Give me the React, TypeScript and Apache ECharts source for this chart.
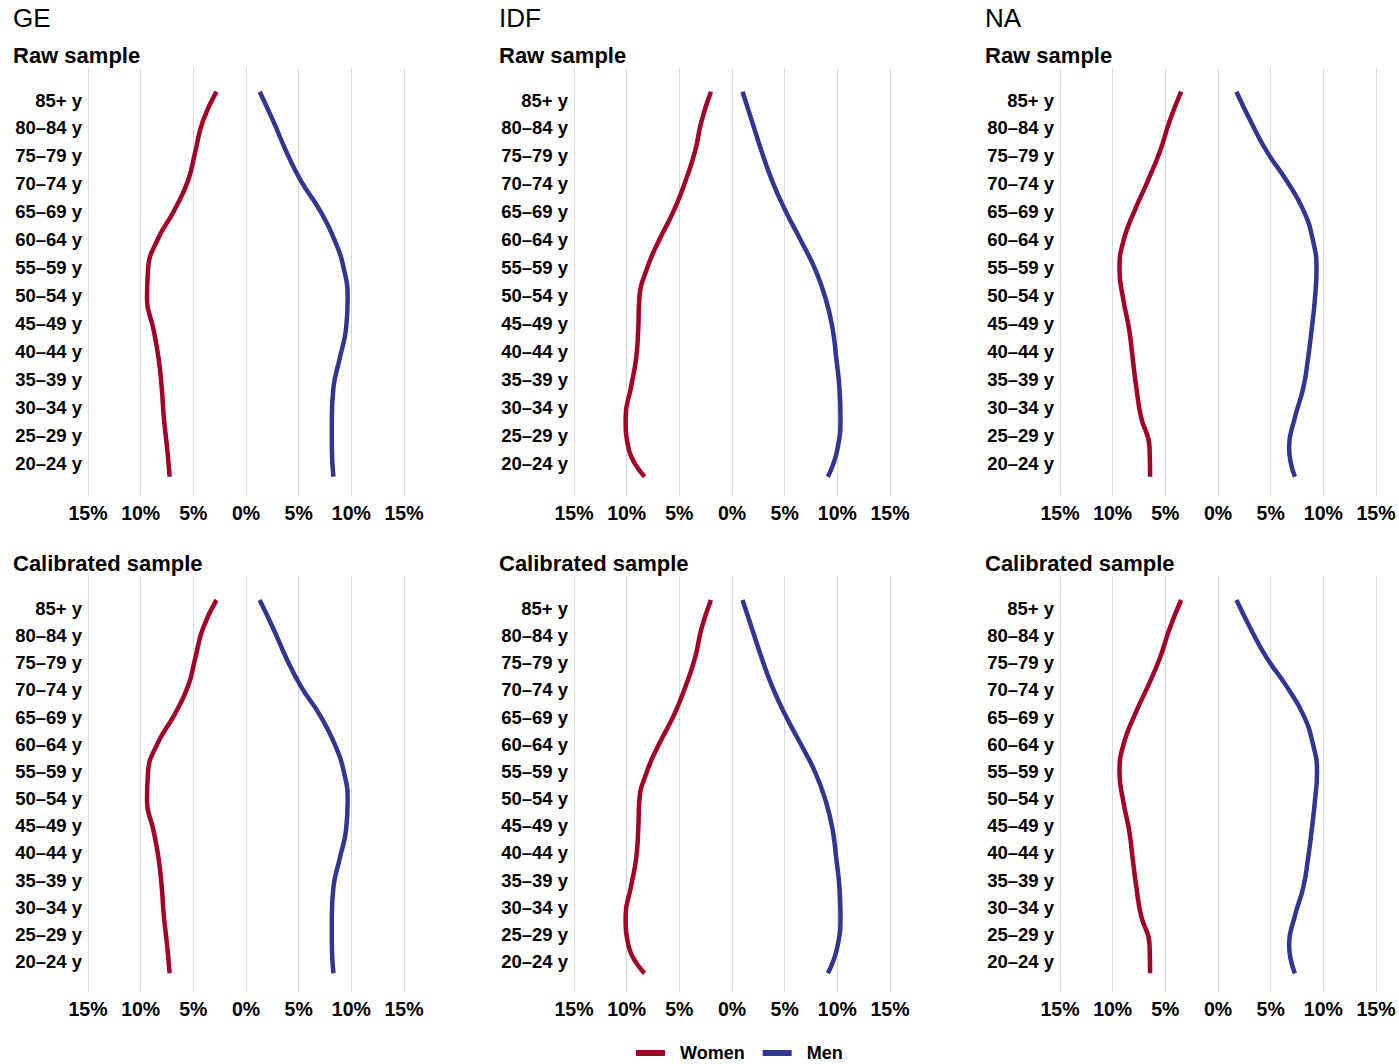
import React, { useEffect, useRef } from "react";
import * as echarts from "echarts";

// ---------- data ----------
const AGE_GROUPS = [
  "20–24 y", "25–29 y", "30–34 y", "35–39 y", "40–44 y", "45–49 y", "50–54 y",
  "55–59 y", "60–64 y", "65–69 y", "70–74 y", "75–79 y", "80–84 y", "85+ y",
];
const REGIONS = ["GE", "IDF", "NA"];
const SAMPLES = ["Raw sample", "Calibrated sample"];
const X_TICKS = [-15, -10, -5, 0, 5, 10, 15];

// shares in % (index 0 = 20–24 y ... index 13 = 85+ y)
const GE_RAW_WOMEN = [7.25, 7.5, 7.8, 8.0, 8.3, 8.8, 9.4, 9.3, 8.4, 6.8, 5.5, 4.8, 4.1, 2.8];
const GE_RAW_MEN = [8.3, 8.15, 8.15, 8.3, 8.9, 9.5, 9.65, 9.3, 8.4, 7.0, 5.2, 3.8, 2.6, 1.3];
const IDF_RAW_WOMEN = [8.3, 9.85, 10.1, 9.6, 9.1, 8.9, 8.8, 8.1, 6.9, 5.5, 4.4, 3.5, 2.9, 2.0];
const IDF_RAW_MEN = [9.1, 10.05, 10.3, 10.2, 9.9, 9.55, 8.9, 7.9, 6.5, 5.05, 3.8, 2.8, 1.9, 1.0];
const NA_RAW_WOMEN = [6.45, 6.5, 7.3, 7.75, 8.1, 8.45, 9.0, 9.35, 8.95, 7.9, 6.65, 5.5, 4.6, 3.5];
const NA_RAW_MEN = [7.3, 6.75, 7.3, 8.1, 8.55, 8.9, 9.2, 9.35, 9.0, 8.1, 6.5, 4.6, 3.1, 1.75];

const GE_CAL_WOMEN = [7.25, 7.5, 7.8, 8.0, 8.3, 8.8, 9.4, 9.3, 8.4, 6.8, 5.5, 4.8, 4.1, 2.8];
const GE_CAL_MEN = [8.3, 8.15, 8.15, 8.3, 8.9, 9.5, 9.65, 9.3, 8.4, 7.0, 5.2, 3.8, 2.6, 1.3];
const IDF_CAL_WOMEN = [8.3, 9.85, 10.1, 9.6, 9.1, 8.9, 8.8, 8.1, 6.9, 5.5, 4.4, 3.5, 2.9, 2.0];
const IDF_CAL_MEN = [9.1, 10.05, 10.3, 10.2, 9.9, 9.55, 8.9, 7.9, 6.5, 5.05, 3.8, 2.8, 1.9, 1.0];
const NA_CAL_WOMEN = [6.45, 6.5, 7.3, 7.75, 8.1, 8.45, 9.0, 9.35, 8.95, 7.9, 6.65, 5.5, 4.6, 3.5];
const NA_CAL_MEN = [7.3, 6.75, 7.3, 8.1, 8.55, 8.9, 9.2, 9.4, 9.0, 8.1, 6.5, 4.6, 3.1, 1.75];

const PANEL_DATA = [
  [
    { women: GE_RAW_WOMEN, men: GE_RAW_MEN },
    { women: IDF_RAW_WOMEN, men: IDF_RAW_MEN },
    { women: NA_RAW_WOMEN, men: NA_RAW_MEN },
  ],
  [
    { women: GE_CAL_WOMEN, men: GE_CAL_MEN },
    { women: IDF_CAL_WOMEN, men: IDF_CAL_MEN },
    { women: NA_CAL_WOMEN, men: NA_CAL_MEN },
  ],
];

// ---------- layout / style ----------
const WIDTH = 1399;
const HEIGHT = 1064;
const RED = "#A50026";
const BLUE = "#313695";
const FONT = "'Liberation Sans', Arial, Helvetica, sans-serif";
const COL_GRID_LEFT = [88, 574, 1060];
const GRID_WIDTH = 316;
const COL_TEXT_LEFT = [13, 499, 985];
const ROW_LAYOUT = [
  { gridTop: 68, gridBottom: 496, labelTop: 100, labelBottom: 463.3, lineTop: 91.7, lineBottom: 476.7, subtitleTop: 44 },
  { gridTop: 576, gridBottom: 992, labelTop: 608.3, labelBottom: 961.7, lineTop: 600, lineBottom: 973.3, subtitleTop: 552 },
];

function axisRange(top: number, bottom: number, pTop: number, pBottom: number, n: number) {
  const h = bottom - top;
  const range = (n * h) / (pBottom - pTop);
  const min = (-(bottom - pBottom) * range) / h;
  return { min, max: min + range };
}

function buildOption() {
  const grid: any[] = [];
  const xAxis: any[] = [];
  const yAxis: any[] = [];
  const series: any[] = [];
  const title: any[] = [];
  const n = AGE_GROUPS.length - 1;
  const idx = AGE_GROUPS.map((_, i) => i);

  REGIONS.forEach((region, c) => {
    title.push({
      text: region,
      left: COL_TEXT_LEFT[c],
      top: 5,
      padding: 0,
      textStyle: { fontFamily: FONT, fontSize: 26, fontWeight: "normal", color: "#000" },
    });
  });

  ROW_LAYOUT.forEach((row, r) => {
    const labelR = axisRange(row.gridTop, row.gridBottom, row.labelTop, row.labelBottom, n);
    const lineR = axisRange(row.gridTop, row.gridBottom, row.lineTop, row.lineBottom, n);
    REGIONS.forEach((_, c) => {
      const g = r * 3 + c;
      title.push({
        text: SAMPLES[r],
        left: COL_TEXT_LEFT[c],
        top: row.subtitleTop,
        padding: 0,
        textStyle: { fontFamily: FONT, fontSize: 22, fontWeight: "bold", color: "#000" },
      });
      grid.push({
        left: COL_GRID_LEFT[c],
        width: GRID_WIDTH,
        top: row.gridTop,
        height: row.gridBottom - row.gridTop,
        containLabel: false,
      });
      xAxis.push({
        gridIndex: g,
        type: "value",
        min: X_TICKS[0],
        max: X_TICKS[X_TICKS.length - 1],
        interval: 5,
        axisLine: { show: false },
        axisTick: { show: false },
        splitLine: { show: true, lineStyle: { color: "#d9d9d9", width: 1 } },
        axisLabel: {
          formatter: (v: number) => Math.abs(v) + "%",
          margin: 7,
          fontFamily: FONT,
          fontSize: 19.5,
          fontWeight: "bold",
          color: "#000",
        },
      });
      yAxis.push({
        gridIndex: g,
        type: "value",
        min: labelR.min,
        max: labelR.max,
        axisLine: { show: false },
        axisTick: { show: false },
        splitLine: { show: false },
        axisLabel: {
          customValues: idx,
          formatter: (v: number) => AGE_GROUPS[Math.round(v)] ?? "",
          margin: 6,
          fontFamily: FONT,
          fontSize: 18.5,
          fontWeight: "bold",
          color: "#000",
        },
      });
      yAxis.push({
        gridIndex: g,
        type: "value",
        min: lineR.min,
        max: lineR.max,
        show: false,
        splitLine: { show: false },
      });
      const d = PANEL_DATA[r][c];
      series.push({
        name: "Women",
        type: "line",
        xAxisIndex: g,
        yAxisIndex: 2 * g + 1,
        data: d.women.map((v, i) => [-v, i]),
        smooth: 0.5,
        symbol: "none",
        showSymbol: false,
        lineStyle: { width: 4.5, color: RED },
        itemStyle: { color: RED },
      });
      series.push({
        name: "Men",
        type: "line",
        xAxisIndex: g,
        yAxisIndex: 2 * g + 1,
        data: d.men.map((v, i) => [v, i]),
        smooth: 0.5,
        symbol: "none",
        showSymbol: false,
        lineStyle: { width: 4.5, color: BLUE },
        itemStyle: { color: BLUE },
      });
    });
  });

  return {
    animation: false,
    backgroundColor: "#fff",
    textStyle: { fontFamily: FONT },
    title,
    grid,
    xAxis,
    yAxis,
    series,
    legend: {
      data: ["Women", "Men"],
      left: 636,
      top: 1044,
      padding: 0,
      icon: "rect",
      itemWidth: 29,
      itemHeight: 6,
      itemGap: 18,
      textStyle: { fontFamily: FONT, fontSize: 18, fontWeight: "bold", color: "#000", padding: [0, 0, 0, 10] },
    },
  };
}

export default function App() {
  const ref = useRef<HTMLDivElement>(null);
  useEffect(() => {
    document.body.style.margin = "0";
    if (!ref.current) return;
    const chart = echarts.init(ref.current, null, { renderer: "svg" });
    chart.setOption(buildOption() as any);
    return () => chart.dispose();
  }, []);
  return <div ref={ref} style={{ width: WIDTH, height: HEIGHT }} />;
}
